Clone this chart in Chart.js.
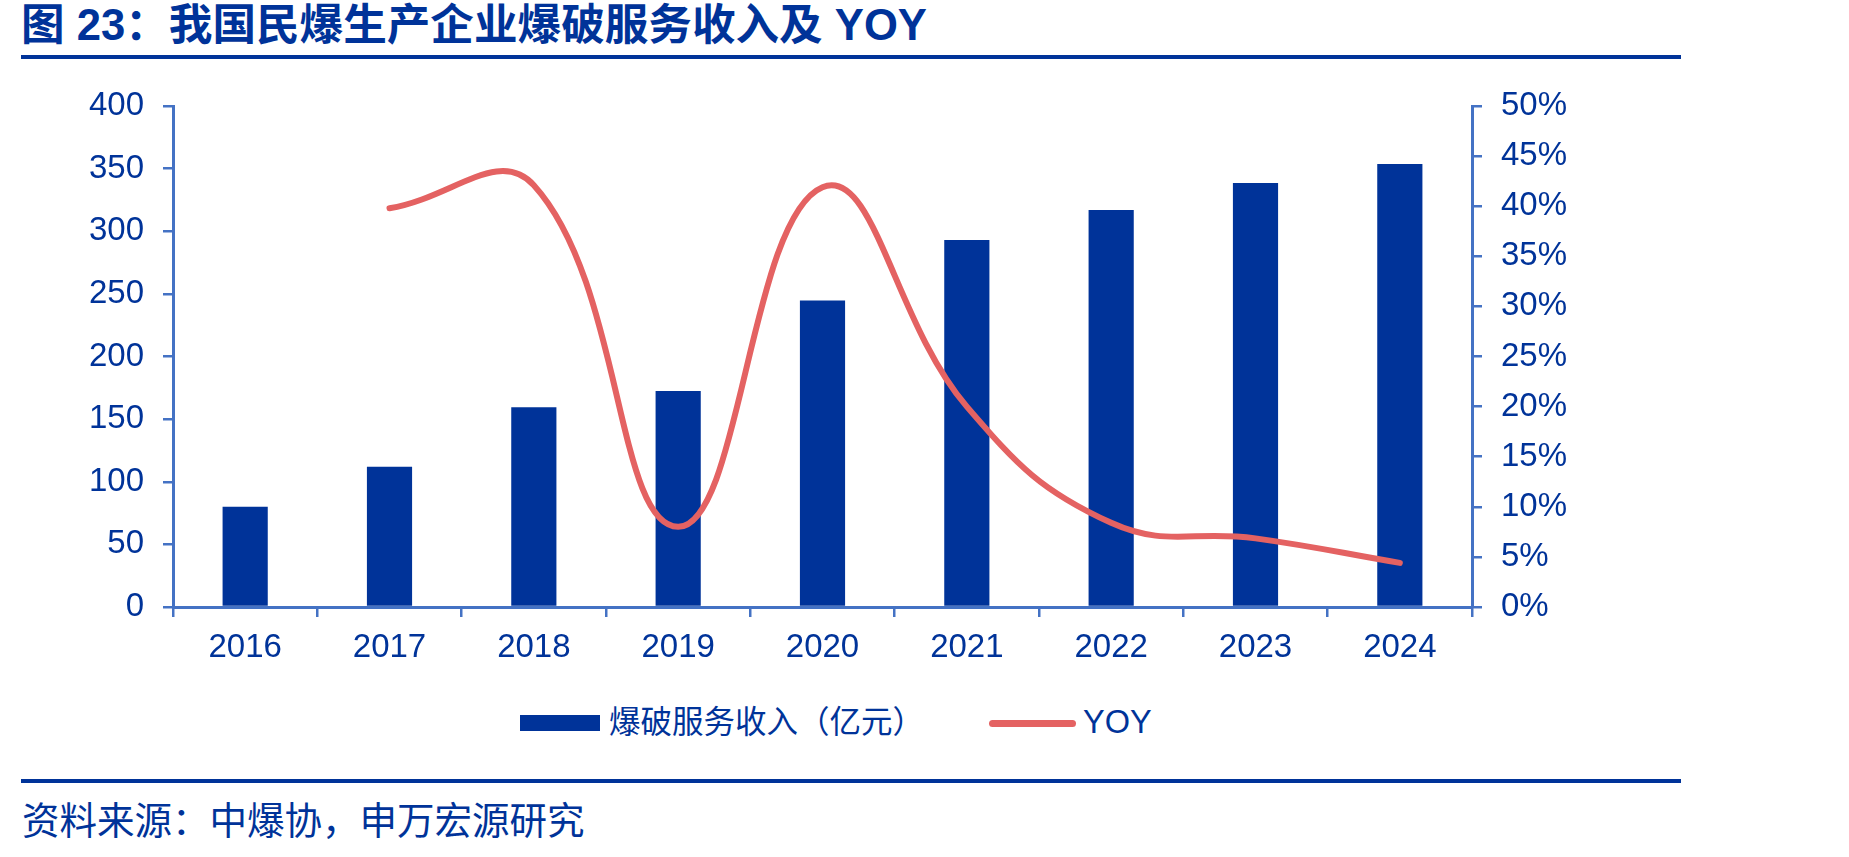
<!DOCTYPE html>
<html>
<head>
<meta charset="utf-8">
<script src="https://cdn.jsdelivr.net/npm/chart.js@4.4.1/dist/chart.umd.min.js"></script>
<style>
  html, body { margin: 0; padding: 0; background: #ffffff; }
  body { width: 1849px; height: 857px; position: relative; overflow: hidden;
         font-family: 'Liberation Sans', Arial, 'Noto Sans CJK SC', sans-serif; color: #003399; }
  #title { position: absolute; left: 21px; top: 4px; font-size: 43.6px; font-weight: 700; line-height: 1; white-space: nowrap; }
  .rule { position: absolute; left: 21px; width: 1660px; height: 4px; background: #003399; }
  #source { position: absolute; left: 22px; top: 803px; font-size: 37.5px; line-height: 1; white-space: nowrap; }
  #chartWrap { position: absolute; left: 0; top: 0; width: 1849px; height: 700px; }
  .lg { position: absolute; white-space: nowrap; line-height: 1; }
</style>
</head>
<body>
<div id="title"></div>
<div class="rule" style="top:55px"></div>
<div id="chartWrap"><canvas id="c" width="1849" height="700"></canvas></div>
<div id="legend"></div>
<div class="rule" style="top:779px"></div>
<div id="source"></div>
<script>
// ---- data ----
const titleText = '图 23：我国民爆生产企业爆破服务收入及 YOY';
const sourceText = '资料来源：中爆协，申万宏源研究';
const categories = ['2016', '2017', '2018', '2019', '2020', '2021', '2022', '2023', '2024'];
const revenueLabel = '爆破服务收入（亿元）';
const revenue = [80, 112, 159.4, 172.5, 244.8, 293, 317, 338.5, 353.7];
const yoyLabel = 'YOY';
const yoy = [null, 39.8, 42.1, 8.0, 41.9, 20.0, 8.4, 6.85, 4.4];
const leftMin = 0, leftMax = 400, leftStep = 50;
const rightMin = 0, rightMax = 50, rightStep = 5;

// ---- styles ----
const BAR_COLOR = '#003399';
const LINE_COLOR = '#E46262';
const AXIS_COLOR = '#4472C4';
const TEXT_COLOR = '#003399';
const FONT = "'Liberation Sans', Arial, 'Noto Sans CJK SC', sans-serif";

document.getElementById('title').textContent = titleText;
document.getElementById('source').textContent = sourceText;

// legend
const lg = document.getElementById('legend');
lg.innerHTML =
  '<div class="lg" style="left:520px;top:715px;width:80px;height:16px;background:' + BAR_COLOR + '"></div>' +
  '<div class="lg" style="left:609px;top:707px;font-size:31.5px;">' + revenueLabel + '</div>' +
  '<div class="lg" style="left:989px;top:719.5px;width:87px;height:7px;border-radius:3.5px;background:' + LINE_COLOR + '"></div>' +
  '<div class="lg" style="left:1083px;top:706px;font-size:32.5px;">' + yoyLabel + '</div>';

const tickFont = { family: FONT, size: 33 };

new Chart(document.getElementById('c'), {
  data: {
    labels: categories,
    datasets: [
      {
        type: 'line',
        label: yoyLabel,
        data: yoy,
        yAxisID: 'y1',
        borderColor: LINE_COLOR,
        backgroundColor: LINE_COLOR,
        borderWidth: 6,
        borderCapStyle: 'round',
        borderJoinStyle: 'round',
        pointRadius: 0,
        pointHoverRadius: 0,
        tension: 0.43,
        spanGaps: true,
        order: 0
      },
      {
        type: 'bar',
        label: revenueLabel,
        data: revenue,
        yAxisID: 'y',
        backgroundColor: BAR_COLOR,
        borderWidth: 0,
        barPercentage: 0.313,
        categoryPercentage: 1,
        order: 1
      }
    ]
  },
  options: {
    responsive: false,
    animation: false,
    devicePixelRatio: 1,
    layout: { padding: { top: 106, left: 0, right: 0, bottom: 0 } },
    plugins: { legend: { display: false }, tooltip: { enabled: false }, title: { display: false } },
    scales: {
      x: {
        type: 'category',
        offset: true,
        grid: { display: true, offset: true, drawOnChartArea: false, drawTicks: true, tickLength: 10, color: AXIS_COLOR, lineWidth: 2.5 },
        border: { display: true, color: AXIS_COLOR, width: 3 },
        ticks: { color: TEXT_COLOR, font: tickFont, padding: 11, maxRotation: 0, autoSkip: false },
        afterFit: (s) => { s.height = 93; }
      },
      y: {
        position: 'left',
        min: leftMin, max: leftMax,
        grid: { display: true, drawOnChartArea: false, drawTicks: true, tickLength: 10, color: AXIS_COLOR, lineWidth: 2.5 },
        border: { display: true, color: AXIS_COLOR, width: 3 },
        ticks: { stepSize: leftStep, color: TEXT_COLOR, font: tickFont, padding: 19 },
        afterFit: (s) => { s.width = 173; }
      },
      y1: {
        position: 'right',
        min: rightMin, max: rightMax,
        grid: { display: true, drawOnChartArea: false, drawTicks: true, tickLength: 10, color: AXIS_COLOR, lineWidth: 2.5 },
        border: { display: true, color: AXIS_COLOR, width: 3 },
        ticks: { stepSize: rightStep, color: TEXT_COLOR, font: tickFont, padding: 19, callback: (v) => v + '%' },
        afterFit: (s) => { s.width = 377; }
      }
    }
  }
});
</script>
</body>
</html>
